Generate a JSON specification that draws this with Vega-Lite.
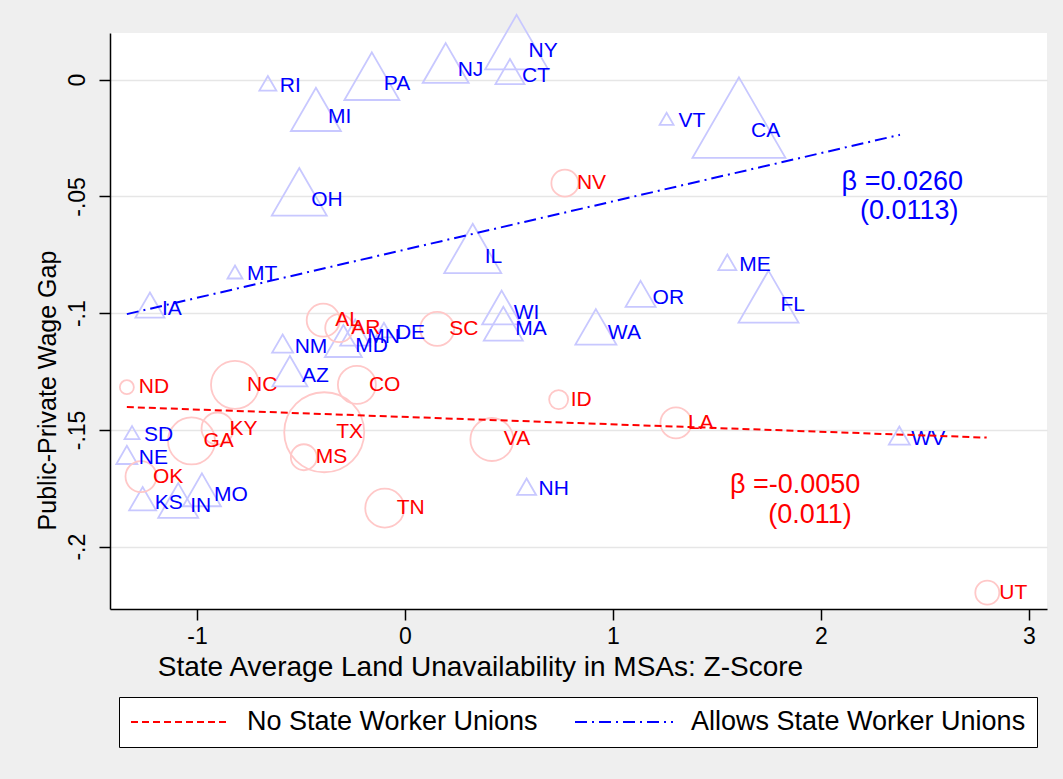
{
  "$schema": "https://vega.github.io/schema/vega-lite/v6.json",
  "width": 937,
  "height": 576,
  "autosize": {"type": "none"},
  "padding": {"left": 110, "top": 33, "right": 16, "bottom": 170},
  "background": "#efefef",
  "config": {"font": "Liberation Sans", "view": {"fill": "white", "stroke": null}},
  "datasets": {
    "states": [
      {"state": "RI", "group": "allows", "z": -0.659, "gap": -0.0026, "w": 2.89},
      {"state": "MI", "group": "allows", "z": -0.428, "gap": -0.0158, "w": 25},
      {"state": "PA", "group": "allows", "z": -0.159, "gap": -0.0019, "w": 30.25},
      {"state": "NJ", "group": "allows", "z": 0.196, "gap": 0.0043, "w": 21.16},
      {"state": "NY", "group": "allows", "z": 0.537, "gap": 0.0122, "w": 39.69},
      {"state": "CT", "group": "allows", "z": 0.505, "gap": 0.0017, "w": 8.41},
      {"state": "OH", "group": "allows", "z": -0.508, "gap": -0.0514, "w": 30.25},
      {"state": "VT", "group": "allows", "z": 1.258, "gap": -0.0176, "w": 1.96},
      {"state": "CA", "group": "allows", "z": 1.606, "gap": -0.022, "w": 86.49},
      {"state": "IA", "group": "allows", "z": -1.226, "gap": -0.0983, "w": 8.41},
      {"state": "MT", "group": "allows", "z": -0.817, "gap": -0.0833, "w": 2.25},
      {"state": "IL", "group": "allows", "z": 0.326, "gap": -0.0758, "w": 32.49},
      {"state": "WI", "group": "allows", "z": 0.465, "gap": -0.1, "w": 15.21},
      {"state": "MA", "group": "allows", "z": 0.473, "gap": -0.1069, "w": 15.21},
      {"state": "MD", "group": "allows", "z": -0.296, "gap": -0.1142, "w": 13.69},
      {"state": "MN", "group": "allows", "z": -0.239, "gap": -0.1102, "w": 9},
      {"state": "DE", "group": "allows", "z": -0.101, "gap": -0.1083, "w": 2.89},
      {"state": "NM", "group": "allows", "z": -0.588, "gap": -0.1143, "w": 4.41},
      {"state": "AZ", "group": "allows", "z": -0.553, "gap": -0.127, "w": 12.25},
      {"state": "WA", "group": "allows", "z": 0.918, "gap": -0.1084, "w": 16.81},
      {"state": "OR", "group": "allows", "z": 1.133, "gap": -0.0936, "w": 9},
      {"state": "ME", "group": "allows", "z": 1.55, "gap": -0.0793, "w": 3.24},
      {"state": "FL", "group": "allows", "z": 1.748, "gap": -0.0966, "w": 36},
      {"state": "NE", "group": "allows", "z": -1.337, "gap": -0.162, "w": 4.41},
      {"state": "SD", "group": "allows", "z": -1.312, "gap": -0.1521, "w": 2.25},
      {"state": "KS", "group": "allows", "z": -1.261, "gap": -0.1811, "w": 7.29},
      {"state": "IN", "group": "allows", "z": -1.09, "gap": -0.1827, "w": 16},
      {"state": "MO", "group": "allows", "z": -0.976, "gap": -0.178, "w": 14.44},
      {"state": "NH", "group": "allows", "z": 0.585, "gap": -0.1755, "w": 3.61},
      {"state": "WV", "group": "allows", "z": 2.377, "gap": -0.1537, "w": 4.41},
      {"state": "NV", "group": "none", "z": 0.769, "gap": -0.0443, "w": 7.29},
      {"state": "AL", "group": "none", "z": -0.393, "gap": -0.103, "w": 10.89},
      {"state": "AR", "group": "none", "z": -0.316, "gap": -0.1064, "w": 7.84},
      {"state": "SC", "group": "none", "z": 0.155, "gap": -0.1067, "w": 11.56},
      {"state": "ND", "group": "none", "z": -1.337, "gap": -0.1317, "w": 1.96},
      {"state": "NC", "group": "none", "z": -0.817, "gap": -0.1307, "w": 23.04},
      {"state": "CO", "group": "none", "z": -0.231, "gap": -0.1307, "w": 14.44},
      {"state": "ID", "group": "none", "z": 0.739, "gap": -0.137, "w": 3.61},
      {"state": "GA", "group": "none", "z": -1.026, "gap": -0.1547, "w": 22.09},
      {"state": "KY", "group": "none", "z": -0.901, "gap": -0.1494, "w": 10.24},
      {"state": "TX", "group": "none", "z": -0.388, "gap": -0.151, "w": 64},
      {"state": "MS", "group": "none", "z": -0.486, "gap": -0.1617, "w": 6.76},
      {"state": "VA", "group": "none", "z": 0.418, "gap": -0.1541, "w": 18.49},
      {"state": "OK", "group": "none", "z": -1.269, "gap": -0.17, "w": 9.61},
      {"state": "TN", "group": "none", "z": -0.097, "gap": -0.1835, "w": 15.21},
      {"state": "LA", "group": "none", "z": 1.303, "gap": -0.147, "w": 9.61},
      {"state": "UT", "group": "none", "z": 2.8, "gap": -0.2197, "w": 5.76}
    ],
    "fits": [
      {"fit": "No State Worker Unions", "z": -1.337, "gap": -0.1402},
      {"fit": "No State Worker Unions", "z": 2.797, "gap": -0.1533},
      {"fit": "Allows State Worker Unions", "z": -1.337, "gap": -0.1004},
      {"fit": "Allows State Worker Unions", "z": 2.38, "gap": -0.0236}
    ],
    "notes": [
      {"label": "β =0.0260", "group": "allows", "z": 2.0995, "gap": -0.044},
      {"label": "(0.0113)", "group": "allows", "z": 2.1875, "gap": -0.0564},
      {"label": "β =-0.0050", "group": "none", "z": 1.5625, "gap": -0.1735},
      {"label": "(0.011)", "group": "none", "z": 1.747, "gap": -0.1864}
    ]
  },
  "encoding": {
    "x": {
      "field": "z", "type": "quantitative",
      "scale": {"domain": [-1.418, 3.087], "nice": false, "zero": false},
      "axis": {
        "title": "State Average Land Unavailability in MSAs: Z-Score",
        "values": [-1, 0, 1, 2, 3], "grid": false,
        "domainColor": "black", "domainWidth": 1.5,
        "tickColor": "black", "tickWidth": 1.5, "tickSize": 11,
        "labelFontSize": 23, "labelColor": "black", "labelPadding": 5,
        "labelFlush": false, "labelOverlap": false,
        "labelExpr": "toString(datum.value)",
        "titleFontSize": 28, "titleFontWeight": "normal", "titleColor": "black",
        "titleX": 370, "titleY": 66, "titleAlign": "center", "titleBaseline": "alphabetic"
      }
    },
    "y": {
      "field": "gap", "type": "quantitative",
      "scale": {"domain": [-0.2267, 0.02], "nice": false, "zero": false},
      "axis": {
        "title": "Public-Private Wage Gap",
        "values": [0, -0.05, -0.1, -0.15, -0.2],
        "grid": true, "gridColor": "#e6e6e6", "gridWidth": 1.5,
        "domainColor": "black", "domainWidth": 1.5,
        "tickColor": "black", "tickWidth": 1.5, "tickSize": 11,
        "labelAngle": 270, "labelAlign": "center", "labelBaseline": "alphabetic",
        "labelPadding": 15, "labelFontSize": 23, "labelColor": "black",
        "labelFlush": false, "labelOverlap": false,
        "labelExpr": "replace(toString(datum.value), '0.', '.')",
        "titleFontSize": 25, "titleFontWeight": "normal", "titleColor": "black",
        "titleAngle": 270, "titleX": -55, "titleY": 357, "titleAlign": "center", "titleBaseline": "alphabetic"
      }
    }
  },
  "layer": [
    {
      "data": {"name": "states"},
      "mark": {"type": "point", "filled": false, "strokeWidth": 1.8, "opacity": 1, "clip": false},
      "encoding": {
        "shape": {"field": "group", "type": "nominal", "scale": {"domain": ["none", "allows"], "range": ["circle", "M0,-1.155L1,0.577L-1,0.577Z"]}, "legend": null},
        "stroke": {"field": "group", "type": "nominal", "scale": {"domain": ["none", "allows"], "range": ["#ffc8c8", "#c8c8ff"]}, "legend": null},
        "size": {"field": "w", "type": "quantitative", "scale": {"type": "linear", "domain": [0, 100], "range": [0, 10000]}, "legend": null}
      }
    },
    {
      "data": {"name": "states"},
      "mark": {"type": "text", "align": "left", "baseline": "middle", "dx": 12, "fontSize": 21},
      "encoding": {
        "text": {"field": "state"},
        "fill": {"field": "group", "type": "nominal", "scale": {"domain": ["none", "allows"], "range": ["#ff0000", "#0000ff"]}, "legend": null}
      }
    },
    {
      "data": {"name": "fits"},
      "mark": {"type": "line", "strokeWidth": 2},
      "encoding": {
        "color": {"field": "fit", "type": "nominal", "scale": {"domain": ["No State Worker Unions", "Allows State Worker Unions"], "range": ["#ff0000", "#0000ff"]},
          "legend": {"title": null, "orient": "none", "legendX": 9, "legendY": 664, "direction": "horizontal", "labelFontSize": 27, "labelColor": "black", "labelLimit": 600, "symbolType": "stroke", "symbolStrokeWidth": 2, "symbolSize": 9604, "clipHeight": 28, "labelOffset": 17, "columnPadding": 36, "padding": 11, "strokeColor": "black", "fillColor": "white"}},
        "strokeDash": {"field": "fit", "type": "nominal", "scale": {"domain": ["No State Worker Unions", "Allows State Worker Unions"], "range": [[7, 4], [12, 5, 2, 5]]}}
      }
    },
    {
      "data": {"name": "notes"},
      "mark": {"type": "text", "align": "left", "baseline": "middle", "fontSize": 27},
      "encoding": {
        "text": {"field": "label"},
        "fill": {"field": "group", "type": "nominal", "legend": null}
      }
    }
  ]
}
